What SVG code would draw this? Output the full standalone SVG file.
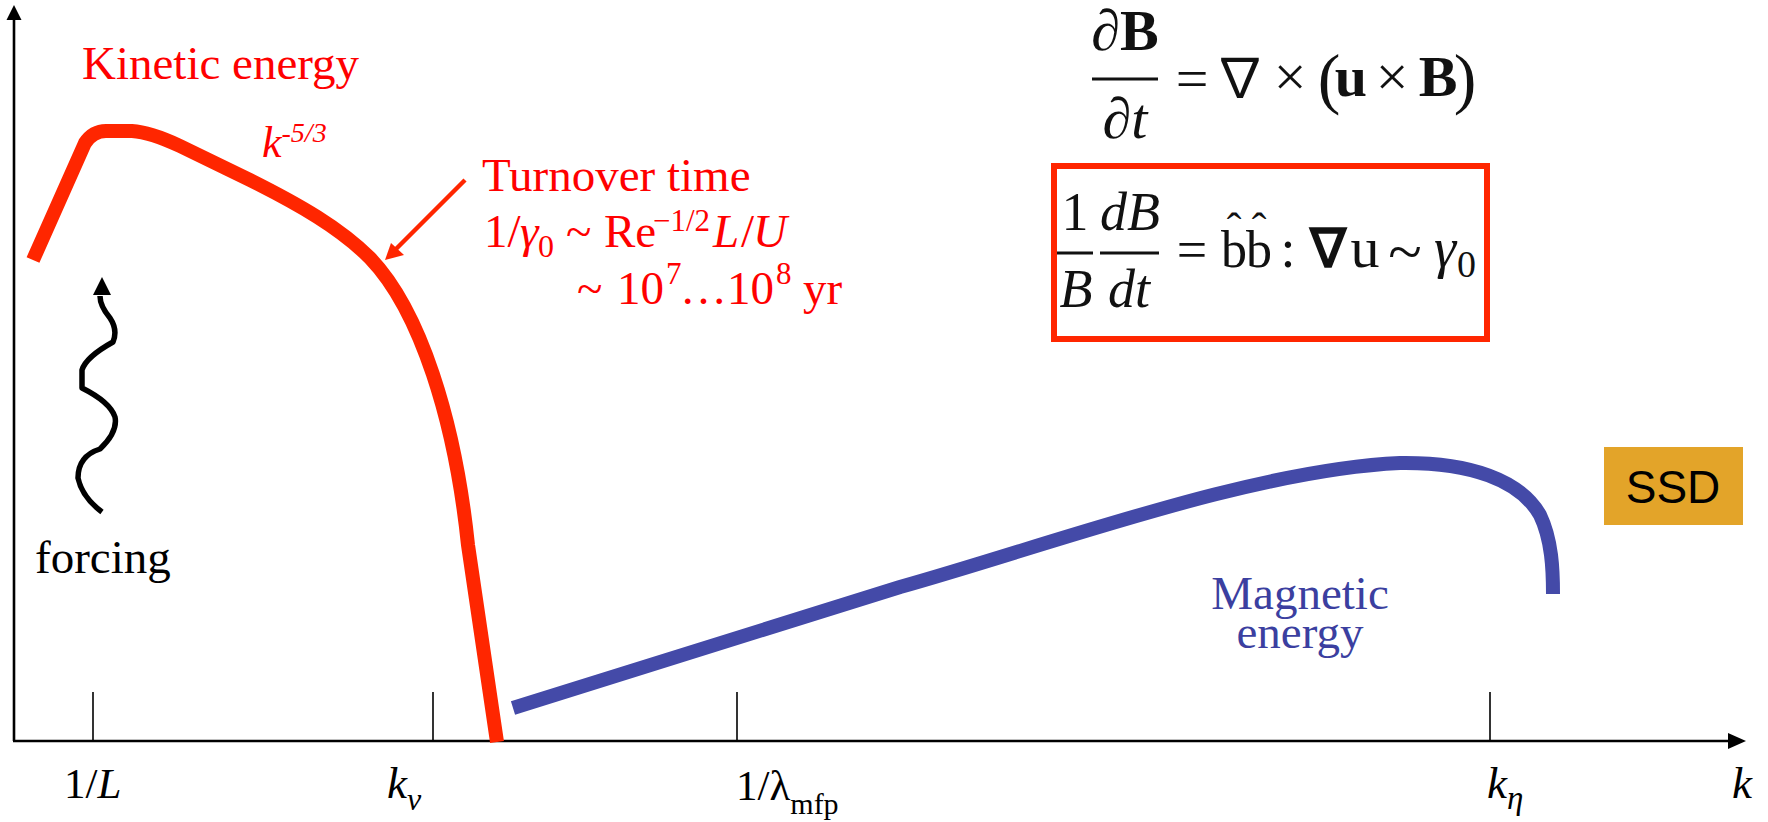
<svg xmlns="http://www.w3.org/2000/svg" width="1768" height="822" viewBox="0 0 1768 822">
<style>
.serif{font-family:"Liberation Serif","Times New Roman",serif}
.red{fill:#ff0000}
.blk{fill:#000}
.blue{fill:#3b3fa0}
.it{font-style:italic}
.bd{font-weight:bold}
.axis{stroke:#000;stroke-width:2.6;fill:none}
.tick{stroke:#000;stroke-width:1.6;fill:none}
.eq{font-family:"Liberation Serif","Times New Roman",serif;fill:#111}
.thin{font-family:"Noto Sans CJK JP","DejaVu Sans",sans-serif}
</style>
<rect width="1768" height="822" fill="#fff"/>

<g id="axes">
  <line class="axis" x1="14" y1="741" x2="14" y2="18"/>
  <polygon points="14,5 6.5,20 21.5,20" fill="#000"/>
  <line class="axis" x1="13" y1="741" x2="1731" y2="741"/>
  <polygon points="1746,741 1728,733 1728,749" fill="#000"/>
  <line class="tick" x1="93" y1="692" x2="93" y2="741"/>
  <line class="tick" x1="433" y1="692" x2="433" y2="741"/>
  <line class="tick" x1="737" y1="692" x2="737" y2="741"/>
  <line class="tick" x1="1490" y1="692" x2="1490" y2="741"/>
</g>

<g id="axis-labels" class="serif blk">
  <text x="64" y="798" font-size="43">1/<tspan class="it">L</tspan></text>
  <text x="387" y="798" font-size="45" class="it">k<tspan font-size="32" dy="12">ν</tspan></text>
  <text x="736" y="800" font-size="43">1/λ<tspan font-size="30" dy="14">mfp</tspan></text>
  <text x="1487" y="798" font-size="45" class="it">k<tspan font-size="33" dy="11">η</tspan></text>
  <text x="1732" y="798" font-size="45" class="it">k</text>
</g>

<g id="kinetic-curve">
  <path d="M 33,260 L 85,143 Q 93,131 106,131 L 132,131 Q 150,132 180,146 L 250,180 C 300,205 340,228 370,258 C 420,310 455,420 468,545 L 497,742" fill="none" stroke="#ff2600" stroke-width="14" stroke-linejoin="round"/>
</g>

<g id="magnetic-curve">
  <path d="M 513,708 L 900,587 C 1050,545 1250,470 1400,463 C 1470,462 1520,480 1540,515 C 1552,540 1553,570 1553,594" fill="none" stroke="#444aa8" stroke-width="14"/>
</g>

<g id="kinetic-label" class="serif red">
  <text x="82" y="79" font-size="47">Kinetic energy</text>
  <text x="262" y="157" font-size="44" class="it">k<tspan font-size="28" dy="-15">-5/3</tspan></text>
</g>

<g id="turnover-label" class="serif red">
  <text x="482" y="191" font-size="47">Turnover time</text>
  <text y="247" font-size="47"><tspan x="484">1/</tspan><tspan x="520" class="it">γ</tspan><tspan x="538" font-size="32" dy="10">0</tspan><tspan x="566" dy="-10">~</tspan><tspan x="604">Re</tspan><tspan x="653" font-size="31" dy="-16">−1/2</tspan><tspan x="713" dy="16" class="it">L</tspan><tspan x="741">/</tspan><tspan x="753" class="it">U</tspan></text>
  <text y="304" font-size="47"><tspan x="577">~</tspan><tspan x="617">10</tspan><tspan x="666" font-size="31" dy="-20">7</tspan><tspan x="680" dy="20">…</tspan><tspan x="727">10</tspan><tspan x="776" font-size="31" dy="-20">8</tspan><tspan x="803" dy="20">yr</tspan></text>
</g>

<g id="connectors">
  <line x1="465" y1="180" x2="396" y2="249" stroke="#ff2600" stroke-width="4.5"/>
  <polygon points="385,260 404,255 391,243" fill="#ff2600"/>
  <path d="M 102,512 Q 82,497 78,478 Q 78,456 100,449 Q 118,432 115,417 Q 110,402 82,388 L 82,370 Q 86,357 113,342 Q 118,330 110,318 Q 100,306 100,296" fill="none" stroke="#000" stroke-width="5.5" stroke-linejoin="round"/>
  <polygon points="102,277 93,295 111,295" fill="#000"/>
</g>

<g id="forcing-label" class="serif blk">
  <text x="35" y="573" font-size="47">forcing</text>
</g>

<g id="induction-equation" class="eq" font-size="58">
  <text x="1125" y="50" text-anchor="middle">∂<tspan class="bd">B</tspan></text>
  <line x1="1092" y1="79" x2="1158" y2="79" stroke="#111" stroke-width="3"/>
  <text x="1125" y="138" text-anchor="middle">∂<tspan class="it">t</tspan></text>
  <text x="1192" y="98" text-anchor="middle">=</text>
  <text x="1240" y="97" text-anchor="middle" class="thin" font-size="54">∇</text>
  <text x="1290" y="96" text-anchor="middle">×</text>
  <text x="1329" y="101" text-anchor="middle" font-size="68">(</text>
  <text x="1351" y="96" text-anchor="middle" class="bd">u</text>
  <text x="1392" y="96" text-anchor="middle">×</text>
  <text x="1438" y="96" text-anchor="middle" class="bd">B</text>
  <text x="1465" y="101" text-anchor="middle" font-size="68">)</text>
</g>

<g id="stretching-equation" class="eq" font-size="54">
  <rect x="1054" y="166" width="433" height="173" fill="none" stroke="#ff2600" stroke-width="6"/>
  <text x="1075" y="230" text-anchor="middle">1</text>
  <line x1="1057" y1="253" x2="1093" y2="253" stroke="#111" stroke-width="3"/>
  <text x="1076" y="307" text-anchor="middle" class="it">B</text>
  <text x="1130" y="230" text-anchor="middle" class="it">dB</text>
  <line x1="1100" y1="253" x2="1159" y2="253" stroke="#111" stroke-width="3"/>
  <text x="1129" y="307" text-anchor="middle" class="it">dt</text>
  <text x="1192" y="268" text-anchor="middle">=</text>
  <text x="1234" y="267" text-anchor="middle" font-size="52">b</text>
  <text x="1259" y="267" text-anchor="middle" font-size="52">b</text>
  <text x="1234" y="243" text-anchor="middle" font-size="44">ˆ</text>
  <text x="1259" y="243" text-anchor="middle" font-size="44">ˆ</text>
  <text x="1288" y="267" text-anchor="middle">:</text>
  <text x="1328" y="267" text-anchor="middle" class="bd">∇</text>
  <text x="1365" y="267" text-anchor="middle" font-size="58">u</text>
  <text x="1405" y="272" text-anchor="middle" font-size="62">~</text>
  <text x="1434" y="267" class="it" font-size="56">γ</text>
  <text x="1457" y="277" font-size="38">0</text>
</g>

<g id="ssd-badge">
  <rect x="1604" y="447" width="139" height="78" fill="#e3a429"/>
  <text x="1673" y="503" text-anchor="middle" font-family="Liberation Sans, Arial, sans-serif" font-size="46" fill="#000">SSD</text>
</g>

<g id="magnetic-label" class="serif blue">
  <text x="1300" y="609" font-size="47" text-anchor="middle">Magnetic</text>
  <text x="1300" y="648" font-size="47" text-anchor="middle">energy</text>
</g>
</svg>
